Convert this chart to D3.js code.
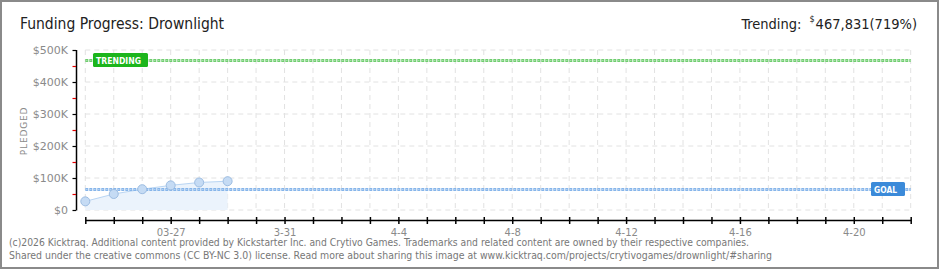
<!DOCTYPE html>
<html><head><meta charset="utf-8">
<script src="https://cdn.jsdelivr.net/npm/d3@7"></script>
<style>
html,body{margin:0;padding:0;background:#fff;}
svg{display:block;}
</style></head>
<body>
<svg id="c" width="940" height="270"></svg>
<script>
// ---- data ----
const dates = ["2026-03-24","2026-03-25","2026-03-26","2026-03-27","2026-03-28","2026-03-29"];
const pledged = [27000, 50000, 65000, 77000, 86000, 90000];
const goal = 65000;
const trending = 467831;
const trendingPct = "719%";
const yTicks = [0, 50000, 100000, 150000, 200000, 250000, 300000, 350000, 400000, 450000, 500000];
const xTickLabelDates = ["2026-03-27","2026-03-31","2026-04-04","2026-04-08","2026-04-12","2026-04-16","2026-04-20"];
const xTickLabels = ["03-27","3-31","4-4","4-8","4-12","4-16","4-20"];
const xStart = "2026-03-24", xEnd = "2026-04-22";

const parse = d3.utcParse("%Y-%m-%d");
const svg = d3.select("#c");

// border
svg.append("rect").attr("x",1).attr("y",1).attr("width",937).attr("height",267)
  .attr("fill","#fff").attr("stroke","#8a8a8a").attr("stroke-width",2);

const x = d3.scaleUtc().domain([parse(xStart), parse(xEnd)]).range([85.3, 910.7]);
const y = d3.scaleLinear().domain([0, 500000]).range([210, 50]);

const dayTicks = d3.utcDay.range(parse(xStart), d3.utcDay.offset(parse(xEnd),1));
const majorY = yTicks.filter(v => v % 100000 === 0);

// grid
const grid = svg.append("g");
grid.selectAll("line.v").data(dayTicks).join("line")
  .attr("x1",d=>x(d)).attr("x2",d=>x(d)).attr("y1",y(500000)).attr("y2",y(0))
  .attr("stroke","#e2e2e2").attr("stroke-dasharray","5,4");
grid.selectAll("line.h").data(majorY).join("line")
  .attr("x1",x(parse(xStart))).attr("x2",x(parse(xEnd))).attr("y1",d=>y(d)).attr("y2",d=>y(d))
  .attr("stroke","#e2e2e2").attr("stroke-dasharray","5,4");

// area + line
const pts = dates.map((d,i)=>({d:parse(d), v:pledged[i]}));
svg.append("path").datum(pts)
  .attr("d", d3.area().x(p=>x(p.d)).y0(y(0)).y1(p=>y(p.v)))
  .attr("fill","#ebf3fc");
svg.append("path").datum(pts)
  .attr("d", d3.line().x(p=>x(p.d)).y(p=>y(p.v)))
  .attr("fill","none").attr("stroke","#b9d5f3").attr("stroke-width",1);

// goal / trending lines
function dotted(val, outer, inner){
  const yy = Math.round(y(val))+0.5;
  svg.append("line").attr("x1",x(parse(xStart))).attr("x2",x(parse(xEnd)))
    .attr("y1",yy).attr("y2",yy).attr("stroke",outer).attr("stroke-width",3).attr("stroke-dasharray","3,1");
  svg.append("line").attr("x1",x(parse(xStart))+1).attr("x2",x(parse(xEnd)))
    .attr("y1",yy).attr("y2",yy).attr("stroke",inner).attr("stroke-width",1).attr("stroke-dasharray","1,3");
  return yy;
}
const gy = dotted(goal, "#86b5ea", "#c4dcf6");
const ty = dotted(trending, "#6fcd6f", "#b9e8b9");

// points
svg.selectAll("circle.p").data(pts).join("circle")
  .attr("cx",p=>x(p.d)).attr("cy",p=>y(p.v)).attr("r",4.5)
  .attr("fill","#c5dbf4").attr("stroke","#9dbde2").attr("stroke-width",1);

// labels TRENDING / GOAL
svg.append("rect").attr("x",93).attr("y",ty-7.5).attr("width",55).attr("height",14).attr("rx",1.5).attr("fill","#1cb51c");
svg.append("text").attr("x",96).attr("y",ty+3.5).text("TRENDING")
  .attr("font-family","DejaVu Sans").attr("font-size",8.5).attr("font-weight","bold").attr("fill","#fff")
  .attr("textLength",45).attr("lengthAdjust","spacingAndGlyphs");
svg.append("rect").attr("x",871).attr("y",gy-7.5).attr("width",34).attr("height",14).attr("rx",1.5).attr("fill","#3b8ad9");
svg.append("text").attr("x",874).attr("y",gy+3.5).text("GOAL")
  .attr("font-family","DejaVu Sans").attr("font-size",9).attr("font-weight","bold").attr("fill","#fff")
  .attr("textLength",23).attr("lengthAdjust","spacingAndGlyphs");

// y axis
const yAxisG = svg.append("g").attr("transform","translate(76,0)");
yAxisG.append("line").attr("x1",0.5).attr("x2",0.5).attr("y1",y(500000)).attr("y2",y(0)+0.5).attr("stroke","#000").attr("stroke-width",1.5);
yAxisG.selectAll("line.t").data(yTicks).join("line")
  .attr("x1",-3.5).attr("x2",0).attr("y1",d=>Math.round(y(d))+0.5).attr("y2",d=>Math.round(y(d))+0.5)
  .attr("stroke",d=> d%100000===0 ? "#000" : "#e00000").attr("stroke-width",1.2);
yAxisG.selectAll("text").data(majorY).join("text")
  .attr("x",-8).attr("y",d=>y(d)+4).attr("text-anchor","end")
  .text(d=> "$" + (d===0 ? "0" : (d/1000)+"K"))
  .attr("font-family","DejaVu Sans").attr("font-size",11).attr("fill","#8a8a8a");

svg.append("text").attr("transform","translate(27,131) rotate(-90)").attr("text-anchor","middle")
  .text("PLEDGED").attr("font-family","DejaVu Sans").attr("font-size",9).attr("fill","#8a8a8a").attr("letter-spacing",0.8);

// x axis
const xAxis = d3.axisBottom(x).tickValues(dayTicks).tickSize(3).tickSizeOuter(0)
  .tickFormat(d => { const i = xTickLabelDates.indexOf(d3.utcFormat("%Y-%m-%d")(d)); return i>=0 ? xTickLabels[i] : ""; });
const xg = svg.append("g").attr("transform","translate(0,220)").call(xAxis);
xg.select(".domain").attr("stroke","#000").attr("stroke-width",1.5);
xg.selectAll(".tick line").attr("y1",-3).attr("y2",4).attr("stroke","#000").attr("stroke-width",1.5);
xg.selectAll(".tick text").attr("y",9).attr("font-family","DejaVu Sans").attr("font-size",10).attr("fill","#8a8a8a");

// title + trending header (laid out right to left by measuring)
const cond = "DejaVu Sans Condensed, DejaVu Sans";
svg.append("text").attr("x",20).attr("y",29).text("Funding Progress: Drownlight")
  .attr("font-family",cond).attr("font-size",15.5).attr("fill","#222");
const num = svg.append("text").attr("x",917).attr("y",29).attr("text-anchor","end")
  .text(d3.format(",")(trending) + "(" + trendingPct + ")")
  .attr("font-family",cond).attr("font-size",14.5).attr("fill","#222");
const numW = num.node().getComputedTextLength();
const dol = svg.append("text").attr("x",917 - numW - 1).attr("y",22).attr("text-anchor","end").text("$")
  .attr("font-family",cond).attr("font-size",9).attr("fill","#222");
const dolW = dol.node().getComputedTextLength();
svg.append("text").attr("x",917 - numW - dolW - 9).attr("y",29).attr("text-anchor","end").text("Trending:")
  .attr("font-family",cond).attr("font-size",14.5).attr("fill","#222");

// footer
svg.append("text").attr("x",9).attr("y",246)
  .text("(c)2026 Kicktraq. Additional content provided by Kickstarter Inc. and Crytivo Games. Trademarks and related content are owned by their respective companies.")
  .attr("font-family",cond).attr("font-size",10).attr("fill","#777")
  .attr("textLength",740).attr("lengthAdjust","spacingAndGlyphs");
svg.append("text").attr("x",9).attr("y",259)
  .text("Shared under the creative commons (CC BY-NC 3.0) license. Read more about sharing this image at www.kicktraq.com/projects/crytivogames/drownlight/#sharing")
  .attr("font-family",cond).attr("font-size",10).attr("fill","#777")
  .attr("textLength",763).attr("lengthAdjust","spacingAndGlyphs");
</script>
</body></html>
